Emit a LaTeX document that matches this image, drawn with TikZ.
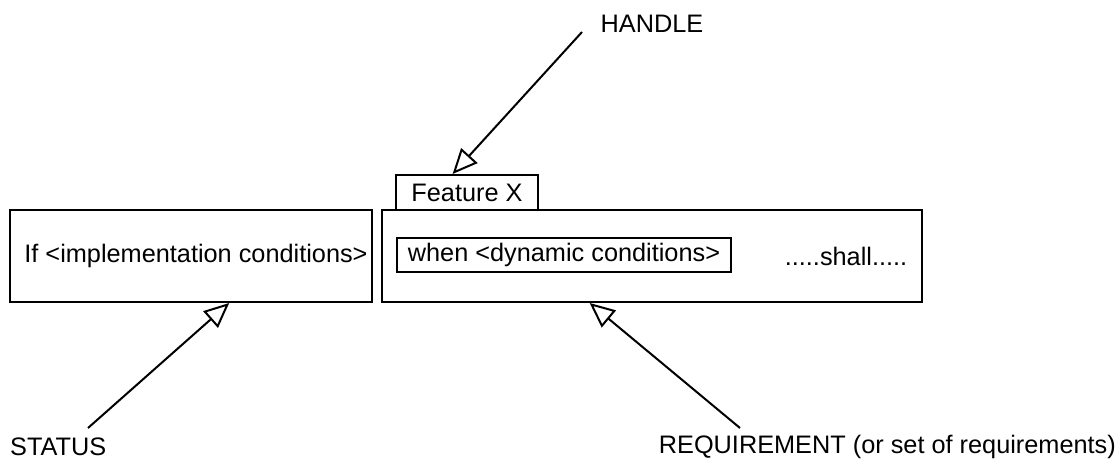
\documentclass[tikz,border=0pt]{standalone}
\usepackage{fontspec}
\setmainfont{Liberation Sans}
\usetikzlibrary{arrows.meta,calc}
\begin{document}
\begin{tikzpicture}[x=1pt,y=-1pt,
  box/.style={draw=black,line width=2pt,inner sep=0pt,minimum width=#1},
  lbl/.style={inner sep=0pt,font=\fontsize{25.3}{30}\selectfont},
  ptr/.style={draw=black,line width=2pt,-{Triangle[open,length=25pt,width=22pt,fill=white]}}]
\useasboundingbox (0,0) rectangle (1119,459);
% boxes
\node[box=362,minimum height=92pt] (left) at (191,256) {};
\node[box=540,minimum height=92pt] (right) at (652,256) {};
\node[box=142,minimum height=35pt,fill=white,lbl] (feat) at (467,192.5) {Feature X};
\node[box=334,minimum height=34pt,lbl] (when) at (564,255) {when <dynamic conditions>};
% texts
\node[lbl] (iftext) at (196,256) {If <implementation conditions>};
\node[lbl] (shall) at (846,256) {.....shall.....};
\node[lbl] (handle) at (652,24) {HANDLE};
\node[lbl,anchor=west] (status) at (10,447) {STATUS};
\node[lbl,anchor=east] (req) at (1116,447) {REQUIREMENT (or set of requirements)};
% connector ends
\coordinate (hs) at (582,32);
\coordinate (ss) at (88,428);
\coordinate (rs) at (740,428);
\draw[ptr] (hs) -- ($(feat.north west)!0.40!(feat.north east)$);
\draw[ptr] (ss) -- ($(left.south west)!0.605!(left.south east)$);
\draw[ptr] (rs) -- ($(right.south west)!0.385!(right.south east)$);
\end{tikzpicture}
\end{document}
